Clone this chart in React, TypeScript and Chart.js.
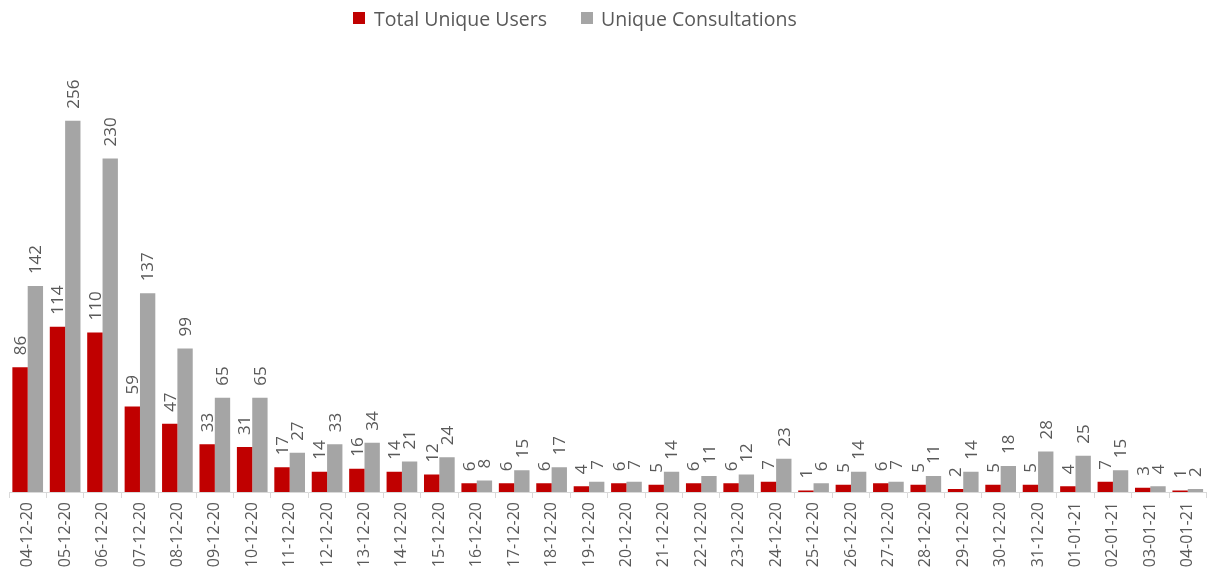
import React, { useEffect, useRef } from "react";
import { Chart, registerables } from "chart.js";

Chart.register(...registerables);

const categories = [
  "04-12-20", "05-12-20", "06-12-20", "07-12-20", "08-12-20", "09-12-20", "10-12-20", "11-12-20",
  "12-12-20", "13-12-20", "14-12-20", "15-12-20", "16-12-20", "17-12-20", "18-12-20", "19-12-20",
  "20-12-20", "21-12-20", "22-12-20", "23-12-20", "24-12-20", "25-12-20", "26-12-20", "27-12-20",
  "28-12-20", "29-12-20", "30-12-20", "31-12-20", "01-01-21", "02-01-21", "03-01-21", "04-01-21",
];

const totalUniqueUsers = [
  86, 114, 110, 59, 47, 33, 31, 17, 14, 16, 14, 12, 6, 6, 6, 4,
  6, 5, 6, 6, 7, 1, 5, 6, 5, 2, 5, 5, 4, 7, 3, 1,
];

const uniqueConsultations = [
  142, 256, 230, 137, 99, 65, 65, 27, 33, 34, 21, 24, 8, 15, 17, 7,
  7, 14, 11, 12, 23, 6, 14, 7, 11, 14, 18, 28, 25, 15, 4, 2,
];

const seriesNames = ["Total Unique Users", "Unique Consultations"];
const seriesColors = ["#C00000", "#A5A5A5"];

const FONT = "'Open Sans', 'DejaVu Sans', sans-serif";
const TEXT_COLOR = "#595959";

const dataLabelPlugin = {
  id: "barValueLabels",
  afterDatasetsDraw(chart: any) {
    const ctx = chart.ctx;
    ctx.save();
    ctx.font = `17px ${FONT}`;
    ctx.fillStyle = TEXT_COLOR;
    ctx.textAlign = "left";
    ctx.textBaseline = "middle";
    chart.data.datasets.forEach((ds: any, di: number) => {
      const meta = chart.getDatasetMeta(di);
      meta.data.forEach((el: any, i: number) => {
        const v = ds.data[i];
        ctx.save();
        ctx.translate(el.x + 1, el.y - 12);
        ctx.rotate(-Math.PI / 2);
        ctx.fillText(String(v), 0, 0);
        ctx.restore();
      });
    });
    ctx.restore();
  },
};

export default function App() {
  const canvasRef = useRef<HTMLCanvasElement | null>(null);

  useEffect(() => {
    if (!canvasRef.current) return;
    const chart = new Chart(canvasRef.current, {
      type: "bar",
      data: {
        labels: categories,
        datasets: [
          {
            label: seriesNames[0],
            data: totalUniqueUsers,
            backgroundColor: seriesColors[0],
            categoryPercentage: 0.82,
            barPercentage: 1,
          },
          {
            label: seriesNames[1],
            data: uniqueConsultations,
            backgroundColor: seriesColors[1],
            categoryPercentage: 0.82,
            barPercentage: 1,
          },
        ],
      },
      options: {
        animation: false,
        responsive: false,
        maintainAspectRatio: false,
        layout: { padding: { top: 57, left: 9, right: 2.5, bottom: 0 } },
        plugins: {
          legend: { display: false },
          tooltip: { enabled: false },
        },
        scales: {
          x: {
            offset: true,
            grid: {
              display: true,
              offset: true,
              drawOnChartArea: false,
              drawTicks: true,
              tickLength: 6,
              color: "#D9D9D9",
            },
            border: { display: true, color: "#D9D9D9", width: 1 },
            ticks: {
              minRotation: 90,
              maxRotation: 90,
              autoSkip: false,
              padding: 4,
              color: TEXT_COLOR,
              font: { family: FONT, size: 16 },
            },
            afterFit(scale: any) {
              scale.height = 82;
            },
          },
          y: {
            display: false,
            min: 0,
            max: 300,
          },
        },
      },
      plugins: [dataLabelPlugin],
    });
    return () => chart.destroy();
  }, []);

  return (
    <div style={{ position: "absolute", left: 0, top: 0, width: 1211, height: 574, background: "#fff" }}>
      <div
        style={{
          position: "absolute",
          left: 353,
          top: 6,
          height: 24,
          display: "flex",
          alignItems: "center",
          fontFamily: FONT,
          fontSize: 19.5,
          color: TEXT_COLOR,
          whiteSpace: "nowrap",
        }}
      >
        <span style={{ display: "inline-block", width: 12, height: 12, background: seriesColors[0], marginRight: 9 }} />
        <span>{seriesNames[0]}</span>
        <span style={{ display: "inline-block", width: 12, height: 12, background: seriesColors[1], marginLeft: 34, marginRight: 8 }} />
        <span>{seriesNames[1]}</span>
      </div>
      <canvas ref={canvasRef} width={1211} height={574} style={{ display: "block" }} />
    </div>
  );
}
